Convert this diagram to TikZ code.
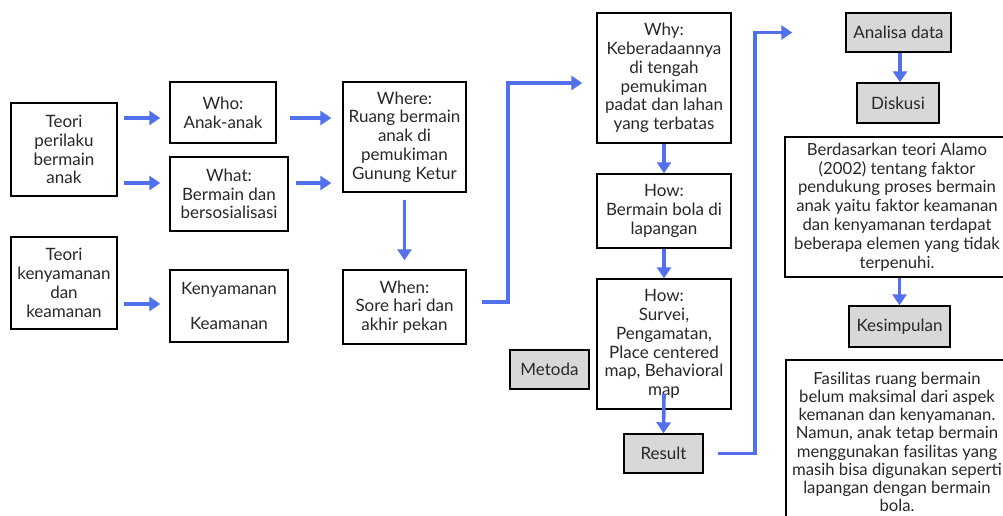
\documentclass[tikz,border=0pt]{standalone}
\usepackage{fontspec}
\setmainfont{Lato}
\usetikzlibrary{arrows.meta}
\definecolor{arrblue}{RGB}{82,112,235}
\definecolor{boxgray}{RGB}{216,216,216}
\definecolor{txt}{RGB}{40,40,40}
\begin{document}
\begin{tikzpicture}[x=1pt,y=-1pt,
  box/.style={draw=black,line width=1.4pt,inner sep=0pt,align=center,text=txt,
    font=\fontsize{17}{18.8}\selectfont},
  graybox/.style={box,fill=boxgray},
  arr/.style={draw=arrblue,line width=3.6pt,-{Triangle[length=11pt,width=14pt]}},
  con/.style={draw=arrblue,line width=3.6pt}]
\path[clip] (0,0) rectangle (1003,516);
\fill[white] (0,0) rectangle (1003,516);
% left column
\node[box,minimum width=106,minimum height=93] (tpb) at (64,149.5) {Teori\\perilaku\\bermain\\anak};
\node[box,minimum width=106,minimum height=92] (tkk) at (64,283) {Teori\\kenyamanan\\dan\\keamanan};
% second column
\node[box,minimum width=106,minimum height=61] (who) at (223,112.5) {Who:\\Anak-anak};
\node[box,minimum width=118,minimum height=74] (what) at (229,194) {What:\\Bermain dan\\bersosialisasi};
\node[box,minimum width=118,minimum height=72] (kk) at (229,306) {Kenyamanan\\[16pt]Keamanan};
% third column
\node[box,minimum width=123,minimum height=110] (where) at (404.5,137) {Where:\\Ruang bermain\\anak di\\pemukiman\\Gunung Ketur};
\node[box,minimum width=123,minimum height=74] (when) at (404.5,307) {When:\\Sore hari dan\\akhir pekan};
% fourth column
\node[box,minimum width=134,minimum height=130] (why) at (664,78) {Why:\\Keberadaannya\\di tengah\\pemukiman\\padat dan lahan\\yang terbatas};
\node[box,minimum width=134,minimum height=74] (how1) at (664,211) {How:\\Bermain bola di\\lapangan};
\node[box,minimum width=134,minimum height=130] (how2) at (664,344) {How:\\Survei,\\Pengamatan,\\Place centered\\map, Behavioral\\map};
\node[graybox,minimum width=79,minimum height=39] (metoda) at (549.5,369.5) {Metoda};
\node[graybox,minimum width=79,minimum height=39] (result) at (663.5,453.5) {Result};
% right column
\node[graybox,minimum width=105,minimum height=39] (analisa) at (898.5,32.5) {Analisa data};
\node[graybox,minimum width=82,minimum height=40] (diskusi) at (898,103) {Diskusi};
\node[box,minimum width=224,minimum height=140,font=\fontsize{16.7}{18.8}\selectfont] (berd) at (897,207) {Berdasarkan teori Alamo\\(2002) tentang faktor\\pendukung proses bermain\\anak yaitu faktor keamanan\\dan kenyamanan terdapat\\beberapa elemen yang tidak\\terpenuhi.};
\node[graybox,minimum width=101,minimum height=41] (kes) at (899.5,326.5) {Kesimpulan};
\node[box,minimum width=222,minimum height=164,font=\fontsize{16.7}{18.2}\selectfont] (fas) at (897,442) {Fasilitas ruang bermain\\belum maksimal dari aspek\\kemanan dan kenyamanan.\\Namun, anak tetap bermain\\menggunakan fasilitas yang\\masih bisa digunakan seperti\\lapangan dengan bermain\\bola.};
% connectors
\draw[arr] ([shift={(6,-31.5)}]tpb.east) -- ([shift={(-9,5.5)}]who.west);
\draw[arr] ([shift={(6,33.5)}]tpb.east) -- ([shift={(-9,-11)}]what.west);
\draw[arr] ([shift={(13,5.5)}]who.east) -- ([shift={(-11,-19)}]where.west);
\draw[arr] ([shift={(7,-11)}]what.east) -- ([shift={(-11,46)}]where.west);
\draw[arr] ([shift={(0,7)}]where.south) -- ([shift={(0,-9)}]when.north);
\draw[arr] ([shift={(6,21)}]tkk.east) -- ([shift={(-9,-2)}]kk.west);
\draw[arr] ([shift={(15,-5)}]when.east) -- ++(26,0) |- ([shift={(-14,5)}]why.west);
\draw[arr] (why.south) -- (how1.north);
\draw[arr] (how1.south) -- (how2.north);
\draw[arr] ([shift={(0,-16)}]how2.south) -- (result.north);
\draw[arr] ([shift={(14,0)}]result.east) -- ++(37,0) |- ([shift={(-53,0)}]analisa.west);
\draw[arr] ([shift={(1.5,0)}]analisa.south) -- ([shift={(2,0)}]diskusi.north);
\draw[arr] ([shift={(2.5,0)}]berd.south) -- (kes.north);
\end{tikzpicture}
\end{document}
